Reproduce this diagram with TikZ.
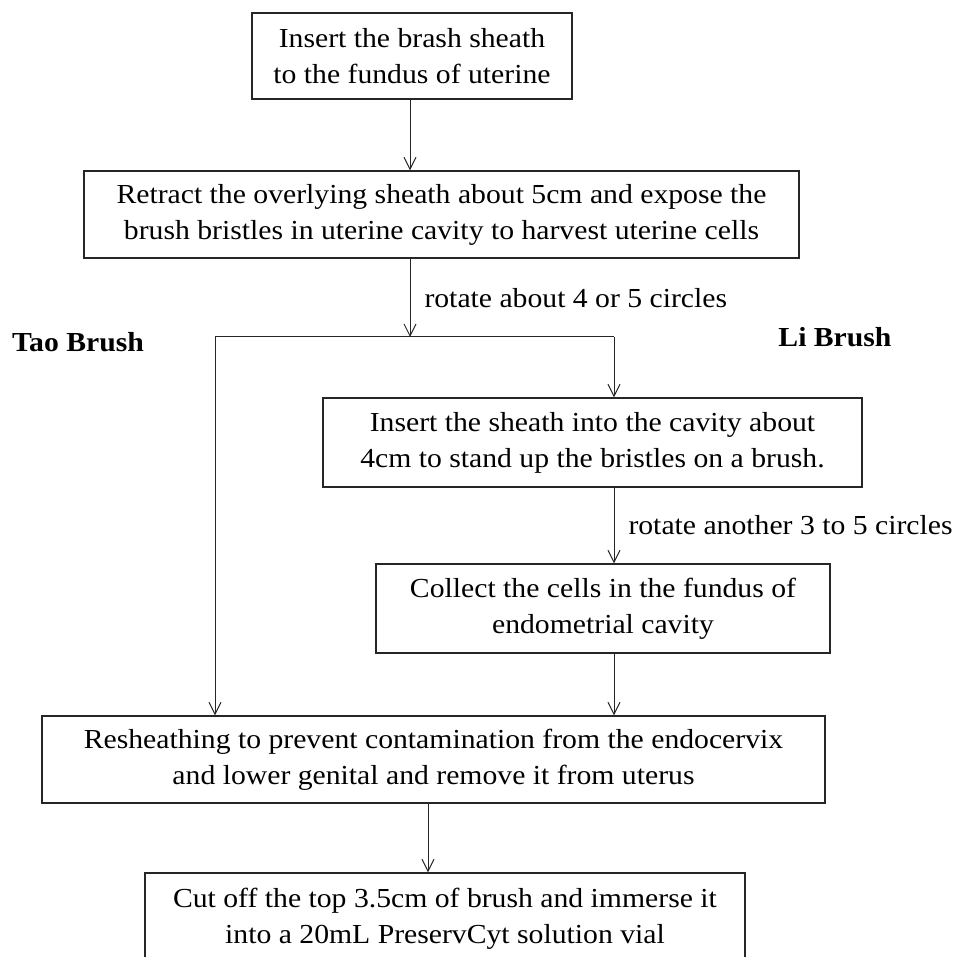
\documentclass[tikz,border=0pt]{standalone}
\usepackage{fontspec}
\setmainfont{Liberation Serif}[FakeStretch=1.08]
\usetikzlibrary{arrows.meta}

\begin{document}
\begin{tikzpicture}[x=1pt, y=-1pt,
	stepbox/.style={draw=black!85, line width=1.3pt, align=center, inner sep=0pt, font=\fontsize{27.5}{36}\selectfont},
	flow/.style={draw=black!85, line width=1pt, -{Straight Barb[length=12pt, width=12pt]}},
	note/.style={font=\fontsize{27.5}{36}\selectfont, inner sep=0pt, anchor=west},
	brand/.style={font=\bfseries\fontsize{27.5}{36}\selectfont, inner sep=0pt}]
\useasboundingbox (0,0) rectangle (964,957);
\clip (0,0) rectangle (964,957);
\node[stepbox, minimum width=320, minimum height=86] (insert) at (412,56) {Insert the brash sheath\\to the fundus of uterine};
\node[stepbox, minimum width=715, minimum height=87] (retract) at (441.5,214.5) {Retract the overlying sheath about 5cm and expose the\\brush bristles in uterine cavity to harvest uterine cells};
\node[stepbox, minimum width=539, minimum height=89] (sheath) at (592.5,442.5) {Insert the sheath into the cavity about\\4cm to stand up the bristles on a brush.};
\node[stepbox, minimum width=454, minimum height=89] (collect) at (603,608.5) {Collect the cells in the fundus of\\endometrial cavity};
\node[stepbox, minimum width=783, minimum height=87] (resheath) at (433.5,759.5) {Resheathing to prevent contamination from the endocervix\\and lower genital and remove it from uterus};
\node[stepbox, minimum width=600, minimum height=92] (cutoff) at (445,919) {Cut off the top 3.5cm of brush and immerse it\\into a 20mL PreservCyt solution vial};
\node[brand] (tao) at (78,342) {Tao Brush};
\node[brand] (li) at (835,337) {Li Brush};
\coordinate (split) at (410,337);
\coordinate (taoturn) at (215,337);
\coordinate (liturn) at (614,337);
\draw[flow] (insert.south -| split) -- (split |- retract.north);
\draw[flow] (split |- retract.south) -- node[note, xshift=14pt] {rotate about 4 or 5 circles} (split);
\draw[draw=black!85, line width=1pt] (taoturn) -- (liturn);
\draw[flow] (liturn) -- (liturn |- sheath.north);
\draw[flow] (liturn |- sheath.south) -- node[note, xshift=14pt] {rotate another 3 to 5 circles} (liturn |- collect.north);
\draw[flow] (liturn |- collect.south) -- (liturn |- resheath.north);
\draw[flow] (taoturn) -- (taoturn |- resheath.north);
\draw[flow] ([xshift=-5.5pt]resheath.south) -- ([xshift=-5.5pt]resheath.south |- cutoff.north);
\end{tikzpicture}
\end{document}
